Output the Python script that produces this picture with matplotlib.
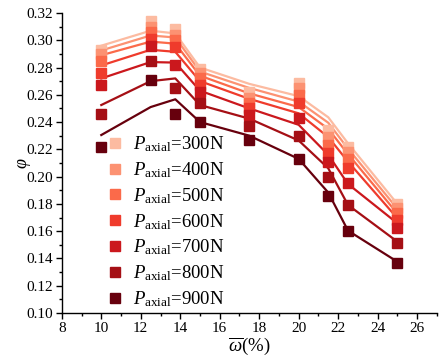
import matplotlib
matplotlib.use("Agg")
import matplotlib.pyplot as plt
from matplotlib.lines import Line2D
from matplotlib.ticker import MultipleLocator, FormatStrFormatter

plt.rcParams['font.family'] = ['Liberation Serif', 'DejaVu Serif']
plt.rcParams['mathtext.fontset'] = 'custom'
plt.rcParams['mathtext.rm'] = 'Liberation Serif'
plt.rcParams['mathtext.it'] = 'Liberation Serif:italic'
plt.rcParams['mathtext.bf'] = 'Liberation Serif:bold'

# ---- data ----
x = [10, 12.5, 13.75, 15, 17.5, 20, 21.5, 22.5, 25]
loads = ["300", "400", "500", "600", "700", "800", "900"]
colors = ["#fcbba1", "#fc9272", "#fb6a4a", "#ef3b2c", "#cb181d", "#a50f15", "#67000d"]

# experimental points (markers)
exp_300 = [0.293, 0.314, 0.308, 0.279, 0.262, 0.269, 0.234, 0.222, 0.180]
exp_400 = [0.290, 0.310, 0.304, 0.276, 0.258, 0.265, 0.229, 0.218, 0.177]
exp_500 = [0.285, 0.306, 0.300, 0.272, 0.254, 0.260, 0.223, 0.213, 0.173]
exp_600 = [0.276, 0.301, 0.295, 0.267, 0.250, 0.254, 0.217, 0.206, 0.168]
exp_700 = [0.267, 0.296, 0.282, 0.262, 0.245, 0.243, 0.211, 0.195, 0.162]
exp_800 = [0.246, 0.285, 0.265, 0.254, 0.237, 0.230, 0.200, 0.179, 0.151]
exp_900 = [0.222, 0.271, 0.246, 0.240, 0.227, 0.213, 0.186, 0.160, 0.137]

# model curves (lines)
fit_300 = [0.296, 0.307, 0.305, 0.280, 0.268, 0.259, 0.2435, 0.2244, 0.180]
fit_400 = [0.2925, 0.3035, 0.302, 0.277, 0.265, 0.255, 0.2395, 0.2205, 0.1765]
fit_500 = [0.289, 0.299, 0.2975, 0.274, 0.261, 0.251, 0.235, 0.2165, 0.173]
fit_600 = [0.2815, 0.293, 0.2915, 0.270, 0.257, 0.2464, 0.229, 0.211, 0.1695]
fit_700 = [0.272, 0.284, 0.2836, 0.263, 0.250, 0.238, 0.216, 0.1946, 0.1658]
fit_800 = [0.2525, 0.270, 0.272, 0.2525, 0.2425, 0.2265, 0.2061, 0.1792, 0.1523]
fit_900 = [0.2305, 0.251, 0.2567, 0.240, 0.230, 0.213, 0.1883, 0.1604, 0.1376]

exp_all = [exp_300, exp_400, exp_500, exp_600, exp_700, exp_800, exp_900]
fit_all = [fit_300, fit_400, fit_500, fit_600, fit_700, fit_800, fit_900]

fig = plt.figure(figsize=(4.48, 3.6), dpi=100)
ax = fig.add_axes([0.138, 0.1306, 0.837, 0.8334])

for f, c in zip(fit_all, colors):
    ax.plot(x, f, color=c, lw=1.6, zorder=2)
for e, c in zip(exp_all, colors):
    ax.plot(x, e, ls='none', marker='s', ms=6.5, color=c, mec=c, zorder=3)

ax.set_xlim(8, 27)
ax.set_ylim(0.10, 0.32)
ax.xaxis.set_major_locator(MultipleLocator(2))
ax.xaxis.set_minor_locator(MultipleLocator(1))
ax.yaxis.set_major_locator(MultipleLocator(0.02))
ax.yaxis.set_minor_locator(MultipleLocator(0.01))
ax.yaxis.set_major_formatter(FormatStrFormatter('%.2f'))
ax.tick_params(which='major', direction='out', length=4, width=1, labelsize=11, pad=2.5)
ax.tick_params(which='minor', direction='out', length=2, width=1)
for s in ['top', 'right']:
    ax.spines[s].set_visible(False)
for s in ['left', 'bottom']:
    ax.spines[s].set_linewidth(1.0)

ax.set_xlabel(r"$\overline{\omega}$(%)", fontsize=13.5, labelpad=0)
ax.set_ylabel(r"$\varphi$", fontsize=13, labelpad=-5)

handles = [Line2D([], [], ls='none', marker='s', ms=6.5, color=c) for c in colors]
labels = [r"$P_{\mathrm{axial}}$=" + l + "N" for l in loads]
ax.legend(handles, labels, loc='lower left', bbox_to_anchor=(0.111, 0.0),
          frameon=False, fontsize=13.5, handlelength=0.8, handletextpad=0.56,
          labelspacing=0.33, borderaxespad=0.0, borderpad=0.2)

fig.savefig("out.png", dpi=100)
